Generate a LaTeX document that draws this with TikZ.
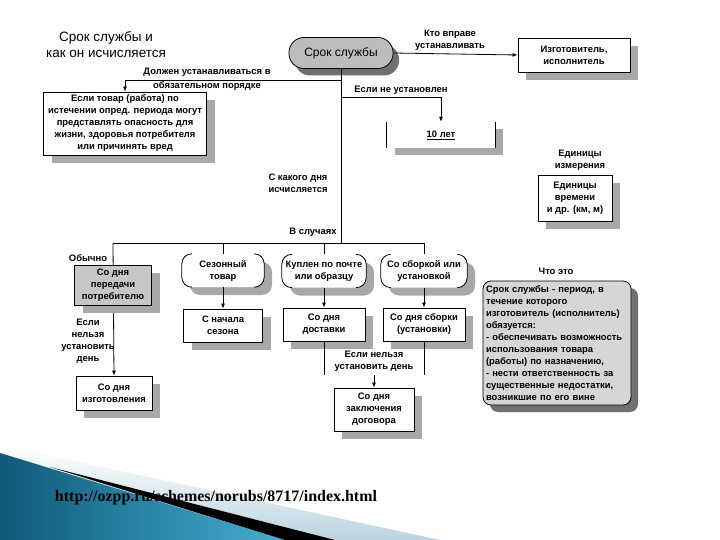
\documentclass[tikz,border=0pt]{standalone}
\usepackage{fontspec}
\usepackage{graphicx}
\setmainfont{Liberation Sans}
\newfontfamily\urlfont{Liberation Serif}
\usetikzlibrary{shadows,arrows.meta}
\definecolor{shd}{HTML}{A8A8A8}
\definecolor{darkshd}{HTML}{707070}
\definecolor{pillgray}{HTML}{BDBDBD}
\definecolor{boxgray}{HTML}{C6C6C6}
\definecolor{notegray}{HTML}{D6D6D6}
\definecolor{teal1}{HTML}{0F5A78}
\definecolor{teal2}{HTML}{45AED0}
\definecolor{pale}{HTML}{BCD4E0}
\pgfdeclarelayer{background}
\pgfsetlayers{background,main}
\newcommand\sidearcs[1]{%
  \draw[conn] ([xshift=10pt]#1.north west) arc[start angle=90,end angle=180,radius=10pt]
     -- ([yshift=10pt]#1.south west) arc[start angle=180,end angle=270,radius=10pt];
  \draw[conn] ([xshift=-10pt]#1.north east) arc[start angle=90,end angle=0,radius=10pt]
     -- ([yshift=10pt]#1.south east) arc[start angle=0,end angle=-90,radius=10pt];}
\tikzset{
  txtfont/.style={font=\fontsize{9.4}{12}\selectfont\bfseries},
  lbl/.style={txtfont, align=center, inner sep=0pt},
  conn/.style={line width=0.8pt},
  arr/.style={conn, -{Latex[length=5pt,width=4pt]}},
  rbox/.style={draw, line width=0.8pt, fill=white, align=center, inner sep=0pt, txtfont,
    drop shadow={shadow xshift=8pt, shadow yshift=-8pt, fill=shd, opacity=1}},
  pill/.style={fill=white, rounded corners=10pt, align=center, inner sep=0pt, txtfont,
    minimum width=82pt, minimum height=33pt,
    drop shadow={shadow xshift=8pt, shadow yshift=-8pt, fill=shd, opacity=1}},
}
\begin{document}
\begin{tikzpicture}[x=1pt,y=-1pt]
\useasboundingbox (0,0) rectangle (720,540);
\begin{pgfonlayer}{background}
\fill[white] (0,0) rectangle (720,540);
\end{pgfonlayer}

% bottom decoration
\shade[top color=white, bottom color=pale] (0,445) -- (440,540) -- (0,540) -- cycle;
\shade[left color=teal1, right color=teal2] (0,453) -- (285,540) -- (0,540) -- cycle;
\fill[black] (50,467) -- (335,540) -- (285,540) -- cycle;
\node[inner sep=0pt, text=black] (url) at (216,498)
  {\resizebox{322pt}{!}{\urlfont\bfseries http://ozpp.ru/schemes/norubs/8717/index.html}};

% title
\node[align=center, inner sep=0pt, font=\fontsize{13.5}{16}\selectfont] (title) at (106,45)
  {Срок службы и\\как он исчисляется};

% nodes
\node[draw, line width=0.8pt, fill=pillgray, rounded corners=15pt, minimum width=104pt,
  minimum height=31pt, inner sep=0pt, font=\fontsize{12}{14}\selectfont,
  drop shadow={shadow xshift=6pt, shadow yshift=-7pt, fill=darkshd, opacity=1}]
  (srok) at (341,53) {Срок службы};
\node[rbox, minimum width=112pt, minimum height=34pt] (izg) at (574,55)
  {Изготовитель,\\исполнитель};
\node[rbox, minimum width=163pt, minimum height=63pt] (opas) at (125,123.5)
  {Если товар (работа) по\\истечении опред. периода могут\\представлять опасность для\\жизни, здоровья потребителя\\или причинять вред};
\node[fill=white, minimum width=108pt, minimum height=26pt, inner sep=0pt, txtfont,
  drop shadow={shadow xshift=8pt, shadow yshift=-7pt, fill=shd, opacity=1}]
  (ten) at (441,135) {\underline{10 лет}};
\draw[conn] (ten.north west) -- (ten.south west) (ten.north east) -- (ten.south east);
\node[rbox, minimum width=74pt, minimum height=46pt] (units) at (575,198)
  {Единицы\\времени\\и др. (км, м)};
\node[rbox, fill=boxgray, minimum width=77pt, minimum height=40pt] (pered) at (113,285)
  {Со дня\\передачи\\потребителю};
\node[rbox, minimum width=76pt, minimum height=34pt] (izgot) at (114,393)
  {Со дня\\изготовления};
\node[pill] (sezon) at (223,270.5) {Сезонный\\товар};
\node[pill, minimum width=84pt] (pochta) at (324,271) {Куплен по почте\\или образцу};
\node[pill, minimum width=86pt] (sborka) at (424,271) {Со сборкой или\\установкой};
\sidearcs{sezon}
\sidearcs{pochta}
\sidearcs{sborka}
\node[rbox, minimum width=79pt, minimum height=33pt] (nachalo) at (223,325.5)
  {С начала\\сезона};
\node[rbox, minimum width=82pt, minimum height=33pt] (dost) at (324,324.5)
  {Со дня\\доставки};
\node[rbox, minimum width=82pt, minimum height=33pt] (sborki) at (424,324.5)
  {Со дня сборки\\(установки)};
\node[rbox, minimum width=80pt, minimum height=43pt] (zakl) at (374,409.5)
  {Со дня\\заключения\\договора};
\node[draw, line width=0.8pt, fill=notegray, rounded corners=8pt, minimum width=148pt,
  minimum height=124pt, inner sep=0pt, txtfont, align=left, text width=142pt,
  drop shadow={shadow xshift=7pt, shadow yshift=-7pt, fill=darkshd, opacity=1}]
  (chto) at (557,343)
  {Срок службы - период, в\\течение которого\\изготовитель (исполнитель)\\обязуется:\\- обеспечивать возможность\\использования товара\\(работы) по назначению,\\- нести ответственность за\\существенные недостатки,\\возникшие по его вине};

% labels
\node[lbl] (l1) at (450,40) {Кто вправе\\устанавливать};
\node[lbl] (l2) at (207,79) {Должен устанавливаться в\\[2pt]обязательном порядке};
\node[lbl] (l3) at (401,90) {Если не установлен};
\node[lbl] (l4) at (580,160) {Единицы\\измерения};
\node[lbl] (l5) at (298,183) {С какого дня\\исчисляется};
\node[lbl] (l6) at (313,232) {В случаях};
\node[lbl] (l7) at (88,258) {Обычно};
\node[lbl] (l8) at (88,341) {Если\\нельзя\\установить\\день};
\node[lbl] (l9) at (374,361) {Если нельзя\\установить день};
\node[lbl] (l10) at (556,271) {Что это};

% connectors
\coordinate (busL) at (113,243);
\coordinate (busR) at (424,243);
\coordinate (j) at (374,375);
\draw[arr] (srok.east) -- (izg.west);
\draw[conn] (srok.south) -- (srok.south |- busL);
\draw[conn] (busL) -- (busR);
\draw[arr] (srok.south |- 0,80) -- (opas.north |- 0,80) -- (opas.north);
\draw[arr] (srok.south |- 0,97) -- (ten.north |- 0,97) -- (ten.north);
\begin{pgfonlayer}{background}
\draw[arr] (busL) -- (izgot.north);
\end{pgfonlayer}
\draw[conn] (sezon.north |- busL) -- (sezon.north);
\draw[conn] (pochta.north |- busL) -- (pochta.north);
\draw[conn] (sborka.north |- busL) -- (sborka.north);
\draw[arr] (sezon.south) -- (nachalo.north);
\draw[arr] (pochta.south) -- (dost.north);
\draw[arr] (sborka.south) -- (sborki.north);
\draw[conn] (dost.south) -- (dost.south |- j);
\draw[conn] (sborki.south) -- (sborki.south |- j);
\draw[arr] (j) -- (zakl.north);
\end{tikzpicture}
\end{document}
